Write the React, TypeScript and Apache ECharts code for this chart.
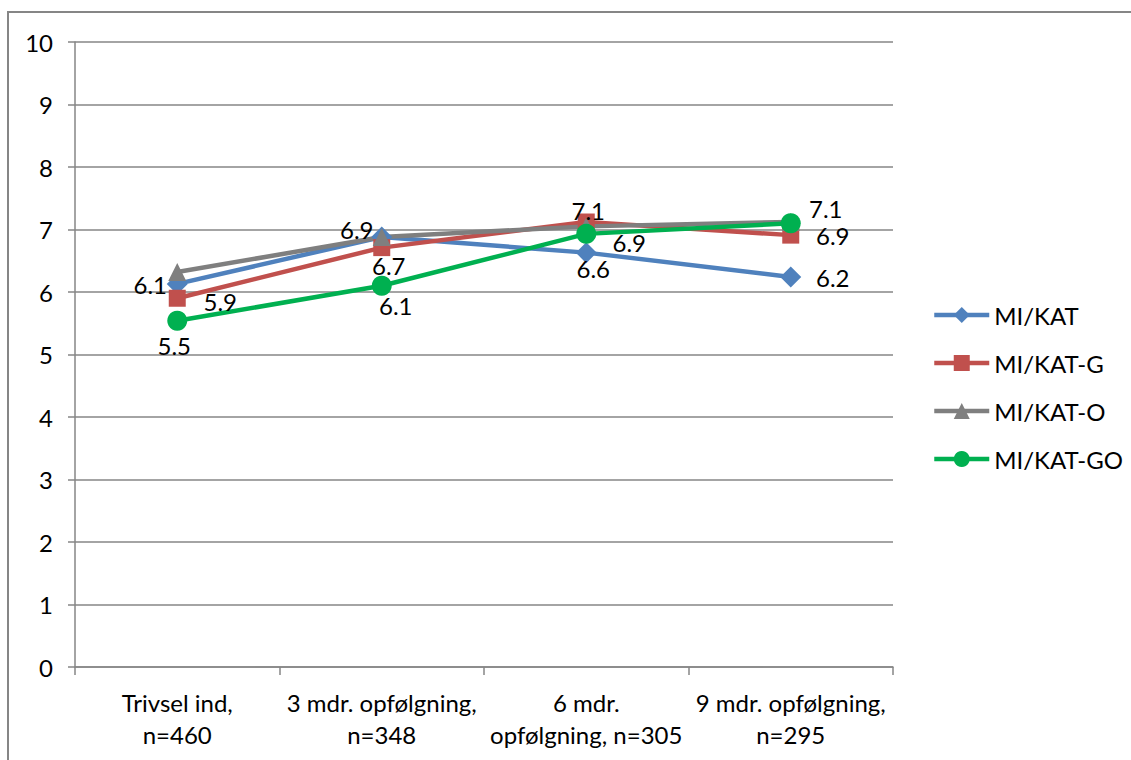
import React, { useEffect, useRef } from "react";
import * as echarts from "echarts";

// Category labels (x axis) and y-axis range
const categories = [
  "Trivsel ind,\nn=460",
  "3 mdr. opfølgning,\nn=348",
  "6 mdr.\nopfølgning, n=305",
  "9 mdr. opfølgning,\nn=295",
];
const yTicks = { min: 0, max: 10, interval: 1 };

// Series values
const seriesNames = ["MI/KAT", "MI/KAT-G", "MI/KAT-O", "MI/KAT-GO"];
const miKat = [6.13, 6.88, 6.63, 6.24];
const miKatG = [5.9, 6.71, 7.12, 6.91];
const miKatO = [6.32, 6.88, 7.05, 7.12];
const miKatGO = [5.54, 6.1, 6.93, 7.1];

const FONT = "Lato, 'Noto Sans', sans-serif";
const FONT_SIZE = 24;
const GRAY = "#868686";

// Label offsets (px from the point centre) for each labelled series; null = no labels
const labelOffsets: (number[][] | null)[] = [
  [[-27, 1], [-25, -8], [7, 16], [42, 0]],
  [[43, 3], [7, 18], [2, -12], [42, 0]],
  null,
  [[-3, 25], [14, 20], [43, 9], [35, -15]],
];

const styles = [
  { color: "#4F81BD", symbol: "diamond", size: 21 },
  { color: "#C0504D", symbol: "rect", size: 17 },
  { color: "#7F7F7F", symbol: "triangle", size: 18 },
  { color: "#00B050", symbol: "circle", size: 20 },
];

export default function App() {
  const ref = useRef<HTMLDivElement>(null);

  useEffect(() => {
    if (!ref.current) return;
    const chart = echarts.init(ref.current, undefined, { renderer: "svg" });
    const allValues = [miKat, miKatG, miKatO, miKatGO];

    const series = allValues.map((vals, si) => {
      const st = styles[si];
      const offs = labelOffsets[si];
      return {
        name: seriesNames[si],
        type: "line",
        data: vals.map((v, i) => ({
          value: v,
          label: offs
            ? {
                show: true,
                position: "inside",
                offset: offs[i],
                formatter: (p: any) => Number(p.value).toFixed(1),
                color: "#000",
                fontSize: FONT_SIZE,
                fontFamily: FONT,
              }
            : { show: false },
        })),
        symbol: st.symbol,
        symbolSize: st.size,
        showAllSymbol: true,
        lineStyle: { color: st.color, width: 4.5 },
        itemStyle: { color: st.color },
        emphasis: { disabled: true },
      };
    });

    chart.setOption({
      animation: false,
      backgroundColor: "#fff",
      textStyle: { fontFamily: FONT },
      graphic: [
        {
          type: "rect",
          shape: { x: 8, y: 12, width: 1300, height: 900 },
          style: { fill: "none", stroke: GRAY, lineWidth: 2 },
          silent: true,
          z: -10,
        },
      ],
      grid: { left: 75, right: 238, top: 42, bottom: 93, containLabel: false },
      xAxis: {
        type: "category",
        data: categories,
        boundaryGap: true,
        axisLine: { show: true, lineStyle: { color: GRAY, width: 1.5 } },
        axisTick: { show: true, length: 8, alignWithLabel: false, lineStyle: { color: GRAY, width: 1.5 } },
        axisLabel: {
          color: "#000",
          fontSize: FONT_SIZE,
          fontFamily: FONT,
          margin: 19,
          lineHeight: 32,
          interval: 0,
        },
      },
      yAxis: {
        type: "value",
        min: yTicks.min,
        max: yTicks.max,
        interval: yTicks.interval,
        axisLine: { show: true, lineStyle: { color: GRAY, width: 1.5 } },
        axisTick: { show: true, length: 7, lineStyle: { color: GRAY, width: 1.5 } },
        splitLine: { show: true, lineStyle: { color: GRAY, width: 1.5 } },
        axisLabel: { color: "#000", fontSize: FONT_SIZE, fontFamily: FONT, margin: 22 },
      },
      legend: {
        orient: "vertical",
        left: 932,
        top: 303,
        padding: 0,
        itemWidth: 55,
        itemHeight: 20,
        itemGap: 24,
        lineStyle: { width: 4.5 },
        textStyle: { color: "#000", fontSize: FONT_SIZE, fontFamily: FONT },
        data: seriesNames,
      },
      series,
    });

    return () => chart.dispose();
  }, []);

  return (
    <div
      ref={ref}
      style={{ position: "absolute", left: 0, top: 0, width: 1131, height: 760 }}
    />
  );
}
